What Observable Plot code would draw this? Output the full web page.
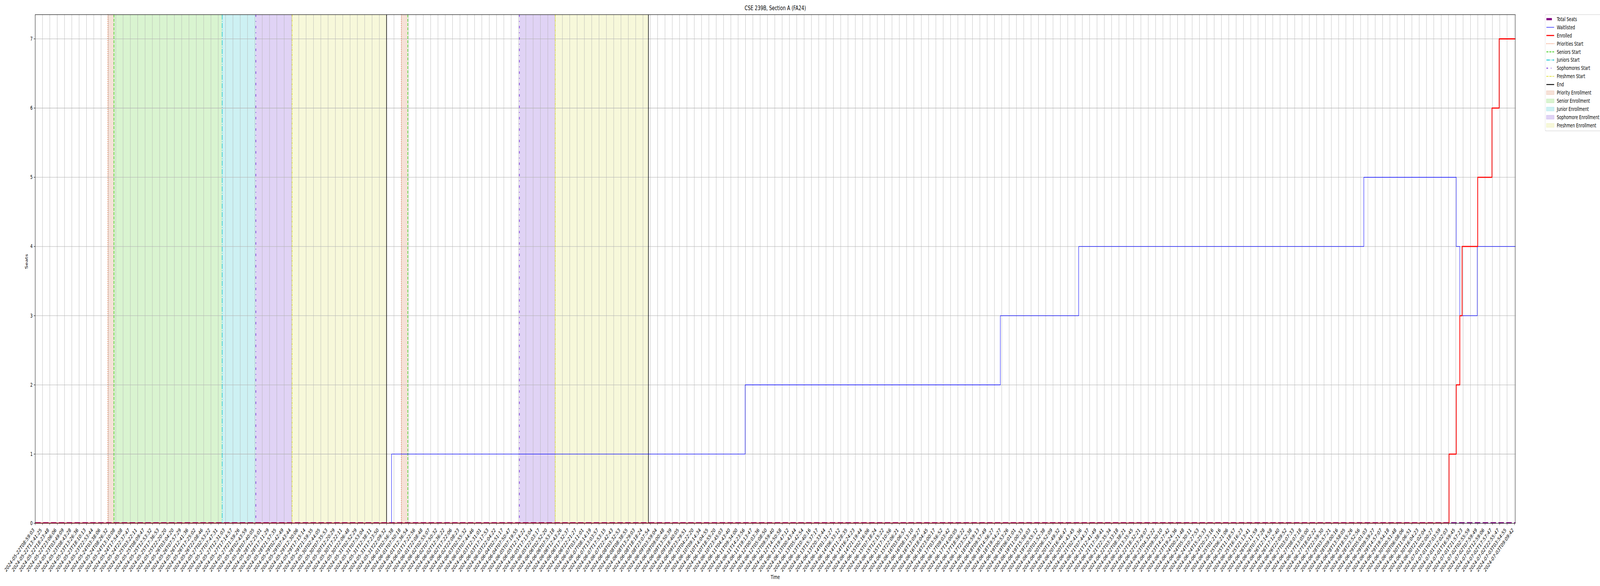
<!DOCTYPE html>
<html><head><meta charset="utf-8">
<script src="https://cdn.jsdelivr.net/npm/d3@7"></script>
<script src="https://cdn.jsdelivr.net/npm/@observablehq/plot@0.6"></script>
<style>
html,body{margin:0;padding:0;background:#fff;overflow:hidden;}
#wrap{position:absolute;left:0;top:0;width:6000px;height:1500px;overflow:hidden;transform-origin:0 0;background:#fff;}
#legend{position:absolute;left:5794px;top:37px;}
</style></head><body><div id="wrap"></div>
<script>
// ---------------- data ----------------
const title = "CSE 239B, Section A (FA24)";
const xLabel = "Time";
const yLabel = "Seats";

const tickLabels = [
"2024-05-22T08:59:03","2024-05-22T13:41:25","2024-05-22T18:23:48","2024-05-22T23:06:06",
"2024-05-23T03:49:09","2024-05-23T08:43:28","2024-05-23T13:26:36","2024-05-23T18:10:13","2024-05-23T22:53:44",
"2024-05-24T03:38:06","2024-05-24T08:26:32","2024-05-24T13:10:08","2024-05-24T17:54:08","2024-05-24T22:37:47",
"2024-05-25T03:22:11","2024-05-25T08:09:47","2024-05-25T12:53:32","2024-05-25T17:36:53","2024-05-25T22:20:20",
"2024-05-26T03:04:20","2024-05-26T07:57:29","2024-05-26T12:41:36","2024-05-26T17:25:02","2024-05-26T22:08:46",
"2024-05-27T02:53:22","2024-05-27T07:47:31","2024-05-27T12:31:03","2024-05-27T17:14:57","2024-05-27T21:59:26",
"2024-05-28T02:43:59","2024-05-28T07:40:05","2024-05-28T12:25:01","2024-05-28T17:11:29","2024-05-28T21:57:35",
"2024-05-29T02:42:49","2024-05-29T07:43:44","2024-05-29T12:30:06","2024-05-29T17:15:14","2024-05-29T21:59:35",
"2024-05-30T02:44:05","2024-05-30T07:35:53","2024-05-30T12:20:29","2024-05-30T17:22:11","2024-05-30T22:06:48",
"2024-05-31T02:52:29","2024-05-31T07:53:04","2024-05-31T12:38:11","2024-05-31T17:23:50","2024-05-31T22:09:32",
"2024-06-01T02:56:38","2024-06-01T07:50:18","2024-06-01T12:36:54","2024-06-01T17:22:56","2024-06-01T22:08:48",
"2024-06-02T02:55:07","2024-06-02T07:50:32","2024-06-02T12:36:22","2024-06-02T17:22:06","2024-06-02T22:08:23",
"2024-06-03T02:55:32","2024-06-03T07:44:46","2024-06-03T12:31:01","2024-06-03T17:17:53","2024-06-03T22:04:22",
"2024-06-04T02:51:17","2024-06-04T07:50:47",
"2024-06-05T07:19:55","2024-06-05T12:14:22","2024-06-05T17:13:04","2024-06-05T22:03:17",
"2024-06-06T02:52:20","2024-06-06T07:53:18","2024-06-06T12:43:26","2024-06-06T17:32:37","2024-06-06T22:21:27",
"2024-06-07T03:11:01","2024-06-07T08:14:19","2024-06-07T13:03:57","2024-06-07T17:53:15","2024-06-07T22:42:43",
"2024-06-08T03:32:53","2024-06-08T08:38:55","2024-06-08T13:29:03","2024-06-08T18:18:24","2024-06-08T23:07:54",
"2024-06-09T03:59:04","2024-06-09T09:00:48","2024-06-09T13:50:39","2024-06-09T18:40:05","2024-06-09T23:29:51",
"2024-06-10T04:22:20","2024-06-10T09:14:34","2024-06-10T14:04:55","2024-06-10T18:55:20","2024-06-10T23:45:03",
"2024-06-11T04:43:40","2024-06-11T09:34:00","2024-06-11T14:23:56","2024-06-11T19:13:47",
"2024-06-12T00:03:36","2024-06-12T05:08:50","2024-06-12T09:59:40","2024-06-12T14:50:58","2024-06-12T19:47:12",
"2024-06-13T00:43:44","2024-06-13T05:42:54","2024-06-13T10:40:16","2024-06-13T15:37:17","2024-06-13T20:33:44",
"2024-06-14T01:31:27","2024-06-14T06:33:12","2024-06-14T11:28:35","2024-06-14T16:24:23","2024-06-14T21:19:44",
"2024-06-15T02:16:06","2024-06-15T07:18:24","2024-06-15T12:15:22","2024-06-15T17:10:56","2024-06-15T22:06:21",
"2024-06-16T03:06:57","2024-06-16T08:13:10","2024-06-16T13:09:27","2024-06-16T18:04:45","2024-06-16T23:00:17",
"2024-06-17T03:56:52","2024-06-17T09:03:42","2024-06-17T14:00:05","2024-06-17T18:56:22","2024-06-17T23:52:38",
"2024-06-18T04:59:13","2024-06-18T09:57:49","2024-06-18T14:56:27","2024-06-18T19:54:27",
"2024-06-19T00:53:26","2024-06-19T06:01:01","2024-06-19T11:00:33","2024-06-19T15:58:03","2024-06-19T20:55:12",
"2024-06-20T01:52:38","2024-06-20T06:52:09","2024-06-20T11:49:32","2024-06-20T16:46:47","2024-06-20T21:43:45",
"2024-06-21T02:41:36","2024-06-21T07:44:37","2024-06-21T12:41:49","2024-06-21T17:38:41","2024-06-21T22:35:34",
"2024-06-22T03:33:18","2024-06-22T08:38:21","2024-06-22T13:35:45","2024-06-22T18:32:21","2024-06-22T23:29:07",
"2024-06-23T04:32:22","2024-06-23T09:30:10","2024-06-23T14:27:42","2024-06-23T19:24:36",
"2024-06-24T00:21:48","2024-06-24T05:30:11","2024-06-24T10:27:53","2024-06-24T15:25:33","2024-06-24T20:23:16",
"2024-06-25T01:21:16","2024-06-25T06:21:06","2024-06-25T11:18:57","2024-06-25T16:16:23","2024-06-25T21:13:41",
"2024-06-26T02:11:59","2024-06-26T07:17:28","2024-06-26T12:14:58","2024-06-26T17:12:40","2024-06-26T22:09:52",
"2024-06-27T03:07:33","2024-06-27T08:07:18","2024-06-27T13:05:00","2024-06-27T18:02:22","2024-06-27T22:59:30",
"2024-06-28T03:57:21","2024-06-28T09:00:16","2024-06-28T13:58:05","2024-06-28T18:55:26","2024-06-28T23:52:56",
"2024-06-29T05:01:03","2024-06-29T09:59:27","2024-06-29T14:57:07","2024-06-29T19:54:18",
"2024-06-30T00:51:48","2024-06-30T06:08:06","2024-06-30T11:06:51","2024-06-30T16:04:23","2024-06-30T21:02:04",
"2024-07-01T02:00:27","2024-07-01T07:03:59","2024-07-01T12:02:03","2024-07-01T16:59:45","2024-07-01T21:57:23",
"2024-07-02T02:55:59","2024-07-02T07:59:49","2024-07-02T12:59:06","2024-07-02T17:57:47","2024-07-02T22:55:47",
"2024-07-03T03:54:55","2024-07-03T09:09:42"
];
const yTicks = [0, 1, 2, 3, 4, 5, 6, 7];

// series: positions in tick-index units, values in seats (change points)
const seatsX = [0, 202.13];
const seatsY = [0, 0];
const waitX = [0, 48.66, 96.95, 131.8, 142.5, 181.44, 194.06, 194.55, 196.93, 202.13];
const waitY = [0, 1, 2, 3, 4, 5, 4, 3, 4, 4];
const enrollX = [0, 193.08, 194.06, 194.55, 194.86, 196.99, 198.94, 199.92, 202.13];
const enrollY = [0, 1, 2, 3, 4, 5, 6, 7, 7];

// event markers (tick-index units)
const prioritiesStart = [9.92, 50.0];
const seniorsStart = [10.75, 50.88];
const juniorsStart = [25.53];
const sophomoresStart = [30.13, 66.12];
const freshmenStart = [35.09, 71.02];
const endTimes = [47.98, 83.74];

// enrollment windows [start, end]
const priorityEnroll = [[9.92, 10.75], [50.0, 50.88]];
const seniorEnroll = [[10.75, 25.53]];
const juniorEnroll = [[25.53, 30.13]];
const sophomoreEnroll = [[30.13, 35.09], [66.12, 71.02]];
const freshmenEnroll = [[35.09, 47.98], [71.02, 83.74]];

// ---------------- styles ----------------
const FONT = "DejaVu Sans, Verdana, sans-serif";
const FS = 13.9;
const yMax = 7.35;
const gridColor = "#b0b0b0";
const eventDefs = [
  {label: "Priorities Start", data: prioritiesStart, stroke: "#ec6b35", dash: "2.1,3.4", w: 2.08},
  {label: "Seniors Start", data: seniorsStart, stroke: "#3ccc14", dash: "7.7,3.3", w: 2.08},
  {label: "Juniors Start", data: juniorsStart, stroke: "#17c5d1", dash: "13.3,3.3,2.1,3.3", w: 2.08},
  {label: "Sophomores Start", data: sophomoresStart, stroke: "#6a22d8", dash: "6.25,10.4,2.1,10.4", w: 2.08},
  {label: "Freshmen Start", data: freshmenStart, stroke: "#dede2e", dash: "6.25,2.1,2.1,2.1", w: 2.08},
  {label: "End", data: endTimes, stroke: "#000000", dash: null, w: 2.08}
];
const spanDefs = [
  {label: "Priority Enrollment", data: priorityEnroll, fill: "#f6e1d7", edge: "#efcdbd"},
  {label: "Senior Enrollment", data: seniorEnroll, fill: "#d9f4d0", edge: "#c3ecb5"},
  {label: "Junior Enrollment", data: juniorEnroll, fill: "#cdf1f3", edge: "#b3e8ec"},
  {label: "Sophomore Enrollment", data: sophomoreEnroll, fill: "#e0d3f5", edge: "#cdb9ef"},
  {label: "Freshmen Enrollment", data: freshmenEnroll, fill: "#f7f8da", edge: "#eff1bd"}
];
const lineDefs = [
  {label: "Total Seats", stroke: "#800080", w: 5.56, dash: "20.6,8.9"},
  {label: "Waitlisted", stroke: "#0000ff", w: 1.39, dash: null},
  {label: "Enrolled", stroke: "#ff0000", w: 2.78, dash: null}
];

// ---------------- build ----------------
const idx = tickLabels.map((_, i) => i);
const toPts = (xs, ys) => xs.map((x, i) => ({x, y: ys[i]}));

const marks = [];
for (const s of spanDefs) {
  marks.push(Plot.rect(s.data, {x1: d => d[0], x2: d => d[1], y1: 0, y2: yMax, fill: s.fill}));
}
marks.push(Plot.ruleX(idx, {x: d => d, stroke: gridColor, strokeWidth: 1.1}));
marks.push(Plot.ruleY(yTicks, {y: d => d, stroke: gridColor, strokeWidth: 1.1}));
for (const e of eventDefs) {
  marks.push(Plot.ruleX(e.data, {x: d => d, stroke: e.stroke, strokeWidth: e.w, strokeDasharray: e.dash || undefined}));
}
const series = [toPts(seatsX, seatsY), toPts(waitX, waitY), toPts(enrollX, enrollY)];
lineDefs.forEach((l, i) => {
  marks.push(Plot.line(series[i], {x: "x", y: "y", curve: "step-after", stroke: l.stroke,
    strokeWidth: l.w, strokeDasharray: l.dash || undefined, strokeLinecap: "butt",
    strokeLinejoin: "round", clip: true}));
});
marks.push(Plot.frame({stroke: "black", strokeWidth: 1.1}));
marks.push(Plot.axisX({ticks: idx, tickSize: 4.9, tickFormat: () => "", strokeWidth: 1.1, label: null}));
marks.push(Plot.text(idx, {x: d => d, text: d => tickLabels[d], frameAnchor: "bottom",
  dx: -5, dy: 15, rotate: -45, textAnchor: "end", lineAnchor: "middle", fontSize: FS, fill: "black"}));
marks.push(Plot.axisY({ticks: yTicks, tickSize: 4.9, tickPadding: 4.9, tickFormat: d3.format("d"),
  fontSize: FS, strokeWidth: 1.1, label: null}));
marks.push(Plot.text([title], {text: d => d, frameAnchor: "top", dy: -12, lineAnchor: "bottom", fontSize: 16.7, fill: "black"}));
marks.push(Plot.text([xLabel], {text: d => d, frameAnchor: "bottom", dy: 138, lineAnchor: "middle", fontSize: FS, fill: "black"}));
marks.push(Plot.text([yLabel], {text: d => d, frameAnchor: "left", dx: -32, rotate: -90, lineAnchor: "middle", fontSize: FS, fill: "black"}));

const chart = Plot.plot({
  width: 6000, height: 1500,
  marginLeft: 131.5, marginRight: 318, marginTop: 37, marginBottom: 161,
  style: {fontFamily: FONT, fontSize: FS + "px", background: "white", overflow: "visible", color: "black"},
  x: {type: "linear", domain: [0, d3.max(waitX)], label: null},
  y: {type: "linear", domain: [0, yMax], label: null},
  marks
});
const wrap = document.getElementById("wrap");
wrap.appendChild(chart);

// ---------------- legend ----------------
const legendRows = [
  ...lineDefs.map(l => ({kind: "line", ...l})),
  ...eventDefs.map(e => ({kind: "line", ...e})),
  ...spanDefs.map(s => ({kind: "patch", ...s}))
];
const rowH = 20.92;
const lg = d3.create("svg").attr("id", "legend").attr("width", 240).attr("height", 310)
  .style("font-family", FONT).style("font-size", FS + "px");
lg.append("rect").attr("x", 0.5).attr("y", 0.5).attr("width", 260).attr("height", 297.5)
  .attr("rx", 3).attr("fill", "white").attr("fill-opacity", 0.8).attr("stroke", "#cccccc").attr("stroke-width", 1.1);
legendRows.forEach((r, k) => {
  const cy = 12 + rowH * k;
  if (r.kind === "line") {
    const ln = lg.append("line").attr("x1", 5).attr("x2", 34).attr("y1", cy).attr("y2", cy)
      .attr("stroke", r.stroke).attr("stroke-width", r.w);
    if (r.dash) ln.attr("stroke-dasharray", r.dash);
  } else {
    lg.append("rect").attr("x", 5).attr("y", cy - 4.85).attr("width", 29).attr("height", 9.7)
      .attr("fill", r.fill).attr("stroke", r.edge).attr("stroke-width", 1);
  }
  lg.append("text").attr("x", 44).attr("y", cy).attr("dy", "0.35em").attr("fill", "black").text(r.label);
});
wrap.appendChild(lg.node());

// fit the 6000x1500 figure into the actual viewport (the browser caps the width)
function fit() {
  const sx = Math.min(1, window.innerWidth / 6000);
  const sy = Math.min(1, window.innerHeight / 1500);
  wrap.style.transform = `scale(${sx}, ${sy})`;
}
fit();
window.addEventListener("resize", fit);
</script>
</body></html>
